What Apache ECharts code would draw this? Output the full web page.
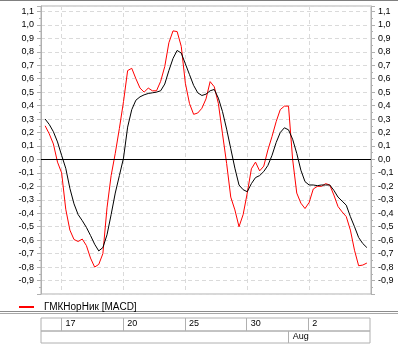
<!DOCTYPE html>
<html>
<head>
<meta charset="utf-8">
<script src="https://cdn.jsdelivr.net/npm/echarts@6/dist/echarts.min.js"></script>
<style>html,body{margin:0;padding:0;background:#fff;}#c{width:398px;height:350px;}</style>
</head>
<body>
<div id="c"></div>
<script>
// Trading days (Jul 16 .. Aug 7), 5 sample slots per day
const days = ['16','17','18','19','20','23','24','25','26','27','30','31','1','2','3','6','7'];
const slotsPerDay = 5;
// Day tick labels (first row) and their slot indices
const tickLabels = ['17','20','25','30','2'];
const tickIndex = [5,20,35,50,65];
// Month labels (second row)
const monthLabels = ['Aug'];
const monthIndex = [60];
// Y tick range
const yMin = -1.0, yMax = 1.14, yStep = 0.1;

const macdName = 'ГМКНорНик [MACD]';
const macdValues = [null,
 0.25,0.19,0.115,-0.02,-0.10,-0.37,-0.525,-0.595,-0.61,-0.592,
 -0.64,-0.733,-0.80,-0.78,-0.70,-0.36,-0.12,0.045,0.23,0.43,
 0.66,0.677,0.60,0.53,0.50,0.53,0.51,0.51,0.58,0.69,
 0.867,0.955,0.95,0.84,0.565,0.415,0.335,0.345,0.38,0.45,
 0.578,0.54,0.415,0.19,-0.03,-0.28,-0.375,-0.50,-0.41,-0.25,
 -0.07,-0.02,-0.085,-0.05,0.07,0.17,0.28,0.37,0.396,0.396,
 0.0,-0.25,-0.325,-0.365,-0.32,-0.22,-0.20,-0.20,-0.18,-0.19,
 -0.265,-0.35,-0.39,-0.425,-0.525,-0.675,-0.79,-0.785,-0.77,null];
const signalName = 'Signal';
const signalValues = [null,
 0.30,0.26,0.206,0.13,0.03,-0.066,-0.215,-0.33,-0.41,-0.455,
 -0.505,-0.565,-0.63,-0.68,-0.655,-0.56,-0.41,-0.25,-0.12,0.01,
 0.24,0.37,0.44,0.465,0.48,0.49,0.495,0.50,0.51,0.56,
 0.66,0.75,0.81,0.79,0.71,0.63,0.55,0.495,0.475,0.485,
 0.51,0.52,0.455,0.355,0.225,0.08,-0.065,-0.19,-0.225,-0.24,
 -0.18,-0.135,-0.12,-0.09,-0.045,0.03,0.125,0.20,0.235,0.22,
 0.15,0.045,-0.08,-0.165,-0.19,-0.19,-0.195,-0.19,-0.19,-0.19,
 -0.23,-0.28,-0.31,-0.34,-0.425,-0.50,-0.58,-0.625,-0.655,null];

const categories = [];
for (let i = 0; i <= (days.length - 1) * slotsPerDay; i++) {
  categories.push(days[Math.floor(i / slotsPerDay)] + '#' + (i % slotsPerDay));
}

const FONT = 'Liberation Sans, Arial, sans-serif';
const GRAY = '#b0b0b0';
function yFmt(v) {
  if (Math.abs(v * 10 - Math.round(v * 10)) > 1e-6) return '';
  if (Math.abs(v - yMin) < 1e-6) return '';
  const r = Math.round(v * 10) / 10;
  return (Math.abs(r) < 1e-9 ? 0 : r).toFixed(1).replace('.', ',');
}
function yAxisDef(pos) {
  return {
    type: 'value', gridIndex: 0, position: pos, min: yMin, max: yMax, interval: yStep,
    axisLine: {show: true, lineStyle: {color: GRAY}},
    axisTick: {show: true, length: 4, lineStyle: {color: GRAY}},
    minorTick: {show: true, splitNumber: 2, length: 2, lineStyle: {color: GRAY}},
    axisLabel: {formatter: yFmt, fontSize: 9, color: '#000', fontFamily: FONT, margin: 7},
    splitLine: {show: pos === 'left', lineStyle: {color: '#dadada', type: [4, 3], width: 1}}
  };
}

const chart = echarts.init(document.getElementById('c'), null, {renderer: 'canvas'});
chart.setOption({
  animation: false,
  backgroundColor: '#fff',
  graphic: [
    {type: 'line', shape: {x1: 0, y1: 0.5, x2: 398, y2: 0.5}, style: {stroke: '#808080', lineWidth: 1}},
    {type: 'line', shape: {x1: 0, y1: 311.5, x2: 398, y2: 311.5}, style: {stroke: '#8c8c8c', lineWidth: 1}},
    {type: 'line', shape: {x1: 0, y1: 313.5, x2: 398, y2: 313.5}, style: {stroke: '#a8a8a8', lineWidth: 1}}
  ],
  legend: {
    data: [macdName], left: 14, top: 297, icon: 'rect', itemWidth: 15, itemHeight: 2,
    textStyle: {fontSize: 10, color: '#000', fontFamily: FONT, padding: [0, 0, 0, 5]},
    selectedMode: false
  },
  grid: [
    {left: 41, top: 6, width: 330, height: 288, show: true, borderColor: GRAY, borderWidth: 1, containLabel: false},
    {left: 41, top: 318, width: 329, height: 13, show: true, borderColor: GRAY, borderWidth: 1},
    {left: 41, top: 331, width: 329, height: 12, show: true, borderColor: GRAY, borderWidth: 1}
  ],
  xAxis: [
    {type: 'category', gridIndex: 0, data: categories, boundaryGap: false,
     axisLine: {show: false}, axisTick: {show: false}, axisLabel: {show: false},
     splitLine: {show: true, interval: (i) => tickIndex.includes(i), lineStyle: {color: '#dadada', type: [4, 3]}}},
    {type: 'category', gridIndex: 1, data: categories, boundaryGap: false, position: 'top',
     axisLine: {show: false}, axisTick: {show: false},
     axisLabel: {show: true, inside: true, interval: (i) => tickIndex.includes(i),
       formatter: (v, i) => { const k = tickIndex.indexOf(i); return k >= 0 ? tickLabels[k] : ''; },
       align: 'left', padding: [0, 0, 0, 4], margin: 1, fontSize: 9, color: '#000', fontFamily: FONT},
     splitLine: {show: true, interval: (i) => tickIndex.includes(i), lineStyle: {color: GRAY, type: 'solid'}}},
    {type: 'category', gridIndex: 2, data: categories, boundaryGap: false, position: 'top',
     axisLine: {show: false}, axisTick: {show: false},
     axisLabel: {show: true, inside: true, interval: (i) => monthIndex.includes(i),
       formatter: (v, i) => { const k = monthIndex.indexOf(i); return k >= 0 ? monthLabels[k] : ''; },
       align: 'left', padding: [0, 0, 0, 5], margin: 1, fontSize: 9, color: '#000', fontFamily: FONT},
     splitLine: {show: true, interval: (i) => monthIndex.includes(i), lineStyle: {color: GRAY, type: 'solid'}}}
  ],
  yAxis: [
    yAxisDef('left'),
    yAxisDef('right'),
    {type: 'value', gridIndex: 1, show: false},
    {type: 'value', gridIndex: 2, show: false}
  ],
  series: [
    {name: macdName, type: 'line', xAxisIndex: 0, yAxisIndex: 0, data: macdValues,
     symbol: 'none', showSymbol: false, lineStyle: {color: '#ff0000', width: 1}, itemStyle: {color: '#ff0000'},
     markLine: {silent: true, symbol: 'none', label: {show: false},
       lineStyle: {color: '#000', type: 'solid', width: 1}, data: [{yAxis: 0}]}},
    {name: signalName, type: 'line', xAxisIndex: 0, yAxisIndex: 0, data: signalValues,
     symbol: 'none', showSymbol: false, lineStyle: {color: '#000000', width: 1}, itemStyle: {color: '#000'}}
  ]
});
</script>
</body>
</html>
